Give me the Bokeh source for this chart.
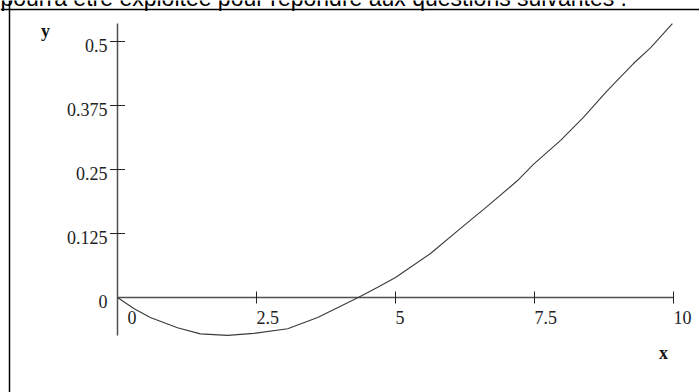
import math
from bokeh.plotting import figure
from bokeh.models import Range1d, Span
from bokeh.core.properties import value
from bokeh.embed import file_html
from bokeh.resources import INLINE

# Curve values
curve_x = [0, 0.3, 0.59, 1.08, 1.49, 1.98, 2.45, 3.06, 3.6, 4.33, 4.68, 5.0,
           5.63, 6.17, 6.65, 7.19, 7.48, 7.97, 8.38, 8.81, 9.28, 9.59, 9.98]
curve_y = [0, -0.022, -0.039, -0.059, -0.071, -0.074, -0.070, -0.061, -0.039,
           0, 0.02, 0.039, 0.086, 0.135, 0.178, 0.228, 0.26, 0.307, 0.352,
           0.404, 0.457, 0.488, 0.535]

x_ticks = [0, 2.5, 5, 7.5, 10]
x_tick_labels = ["0", "2.5", "5", "7.5", "10"]
y_ticks = [0, 0.125, 0.25, 0.375, 0.5]
y_tick_labels = ["0", "0.125", "0.25", "0.375", "0.5"]

header_text = "pourra être exploitée pour répondre aux questions suivantes :"

SERIF = value("Liberation Serif")

p = figure(width=699, height=392, output_backend="svg", toolbar_location=None,
           x_range=Range1d(-2.1043, 10.4676), y_range=Range1d(-0.1855, 0.5801),
           min_border=0, min_border_left=0, min_border_right=0,
           min_border_top=0, min_border_bottom=0)
p.axis.visible = False
p.grid.visible = False
p.outline_line_color = None
p.background_fill_color = "white"

# frame box (left and top edges visible)
p.add_layout(Span(location=-1.9424, dimension="height", line_color="black", line_width=1.5))
p.add_layout(Span(location=0.5625, dimension="width", line_color="black", line_width=1.5))

# axes lines
ymin = min(curve_y)
ymax = max(curve_y)
p.segment(x0=[0], y0=[ymin], x1=[0], y1=[ymax], line_color="#505050", line_width=1.5)
p.segment(x0=[x_ticks[0]], y0=[0], x1=[x_ticks[-1]], y1=[0], line_color="#505050", line_width=1.5)

# ticks
yt = [t for t in y_ticks if t != 0]
p.scatter(x=[0] * len(yt), y=yt, marker="dash", size=15, line_color="#222222", line_width=1)
xt = [t for t in x_ticks if t != 0]
p.scatter(x=xt, y=[0] * len(xt), marker="dash", angle=math.pi / 2, size=12,
          line_color="#222222", line_width=1)

# tick labels
p.text(x=[0] * len(y_ticks), y=y_ticks, text=y_tick_labels, x_offset=-10, y_offset=4,
       text_align="right", text_baseline="middle", text_font=SERIF,
       text_font_size="18px", text_color="#222222")
xoffs = [10 if t == 0 else 0 for t in x_ticks]
p.text(x=x_ticks, y=[0] * len(x_ticks), text=x_tick_labels, x_offset=xoffs, y_offset=13,
       text_align="left", text_baseline="top", text_font=SERIF,
       text_font_size="18px", text_color="#222222")

# axis names
p.text(x=[-1.295], y=[0.521], text=["y"], text_align="center", text_baseline="middle",
       text_font=SERIF, text_font_style="bold", text_font_size="18px", text_color="#111111")
p.text(x=[9.82], y=[-0.109], text=["x"], text_align="center", text_baseline="middle",
       text_font=SERIF, text_font_style="bold", text_font_size="18px", text_color="#111111")

# curve
p.line(curve_x, curve_y, line_color="#3a3a3a", line_width=1.1)

# header text, cut at the top edge as in the source image
p.text(x=[-2.1043], y=[0.5801], y_offset=-3, text=[header_text], text_align="left",
       text_baseline="alphabetic", text_font=value("Liberation Sans"),
       text_font_size="23px", text_color="black")

open("out.html", "w").write(file_html(p, INLINE))
